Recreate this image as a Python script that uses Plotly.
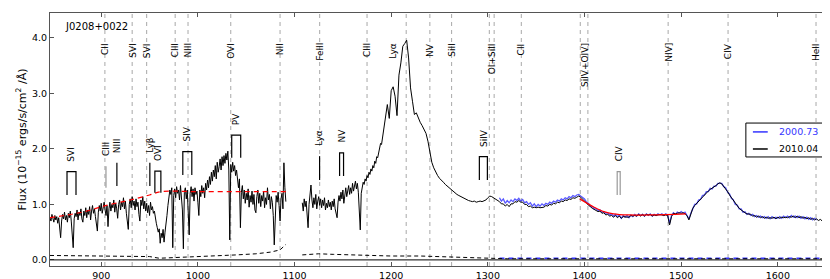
import plotly.graph_objects as go

# ---------------- data ----------------
# 2010.04 spectrum, 847-1091 A (1 A sampling), one row per 10 A; row start wavelengths below
rows_a_start = list(range(847, 1092, 10))
rows_a = [
    [0.76, 0.70, 0.82, 0.74, 0.68, 0.80, 0.72, 0.78, 0.66, 0.76],
    [0.60, 0.40, 0.70, 0.82, 0.74, 0.86, 0.72, 0.80, 0.68, 0.84],
    [0.76, 0.88, 0.70, 0.45, 0.22, 0.74, 0.84, 0.78, 0.90, 0.72],
    [0.86, 0.80, 0.92, 0.74, 0.68, 0.88, 0.80, 0.94, 0.76, 0.90],
    [0.82, 0.96, 0.72, 0.88, 0.98, 0.84, 0.92, 0.78, 0.60, 0.52],
    [0.86, 0.98, 0.88, 1.02, 0.84, 0.96, 1.04, 0.90, 0.80, 0.98],
    [0.60, 0.92, 1.04, 0.88, 1.00, 0.94, 1.08, 0.86, 1.02, 0.92],
    [0.75, 1.00, 1.08, 0.90, 1.04, 0.96, 1.12, 0.92, 1.06, 0.84],
    [0.62, 0.55, 1.00, 1.10, 0.94, 1.14, 0.98, 1.06, 0.90, 1.10],
    [0.96, 1.04, 0.82, 0.70, 1.08, 0.98, 1.14, 0.92, 1.06, 0.88],
    [1.02, 0.85, 0.98, 0.80, 1.04, 0.90, 0.96, 0.84, 0.88, 0.72],
    [0.66, 0.58, 0.50, 0.56, 0.30, 0.48, 0.40, 0.55, 0.32, 0.50],
    [0.62, 0.80, 0.98, 1.14, 1.26, 1.18, 1.30, 0.22, 1.16, 1.28],
    [1.12, 1.32, 1.20, 1.26, 1.08, 1.34, 1.18, 0.90, 0.20, 1.22],
    [1.30, 1.10, 1.26, 0.80, 0.45, 1.20, 1.32, 1.14, 1.28, 1.06],
    [1.30, 1.18, 1.24, 1.04, 0.80, 1.26, 1.14, 1.34, 1.20, 1.30],
    [1.12, 1.38, 1.26, 1.44, 1.30, 1.50, 1.36, 1.58, 1.42, 1.62],
    [1.50, 1.70, 1.46, 1.76, 1.58, 1.68, 1.82, 1.62, 1.86, 1.70],
    [1.88, 1.74, 1.92, 1.80, 1.96, 1.62, 0.36, 1.72, 1.58, 1.76],
    [1.60, 1.70, 1.52, 1.62, 1.40, 1.30, 1.46, 0.58, 1.22, 1.34],
    [1.10, 1.26, 1.02, 1.20, 1.08, 1.28, 0.95, 1.16, 1.04, 1.24],
    [1.00, 1.18, 0.90, 0.85, 1.14, 1.26, 1.02, 1.20, 0.96, 1.16],
    [1.06, 1.24, 0.94, 1.12, 1.00, 1.30, 1.08, 1.18, 0.92, 1.14],
    [1.04, 0.80, 0.27, 0.96, 1.16, 1.04, 1.22, 0.98, 0.70, 1.10],
    [1.20, 0.92, 1.75, 1.30, 1.05],
]
# 2010.04 spectrum, 1108-1190 A (1 A sampling)
rows_b_start = list(range(1108, 1191, 10))
rows_b = [
    [1.03, 0.88, 1.10, 0.96, 1.06, 0.72, 0.58, 1.00, 1.20, 1.35],
    [1.08, 0.94, 1.12, 1.00, 1.18, 0.92, 1.06, 1.14, 0.98, 1.10],
    [0.94, 1.08, 0.98, 1.12, 0.90, 1.02, 0.94, 1.08, 0.96, 1.04],
    [0.90, 1.06, 0.96, 1.10, 0.92, 0.86, 0.76, 1.04, 1.16, 1.06],
    [1.22, 1.10, 1.26, 1.02, 1.18, 1.30, 1.14, 1.22, 1.34, 1.18],
    [1.30, 1.20, 1.38, 1.24, 1.32, 1.42, 1.28, 1.38, 1.22, 0.90],
    [0.54, 1.20, 1.34, 1.40, 1.36, 1.46, 1.42, 1.52, 1.48, 1.58],
    [1.54, 1.64, 1.60, 1.70, 1.66, 1.78, 1.74, 1.86, 1.84, 1.95],
    [1.98, 2.10, 2.08],
]
# 2010.04 spectrum, 1192-1654 A (2 A sampling), one row per 20 A
rows_c_start = list(range(1192, 1655, 20))
rows_c = [
    [2.30, 2.50, 2.80, 2.55, 3.05, 3.12, 2.95, 2.60, 3.33, 3.55],
    [3.85, 3.90, 3.96, 3.64, 3.10, 2.86, 2.62, 2.65, 2.55, 2.48],
    [2.42, 2.35, 2.28, 2.14, 1.92, 1.76, 1.66, 1.58, 1.52, 1.47],
    [1.44, 1.40, 1.36, 1.33, 1.29, 1.26, 1.24, 1.21, 1.18, 1.16],
    [1.14, 1.12, 1.10, 1.09, 1.07, 1.06, 1.05, 1.06, 1.04, 1.05],
    [1.06, 1.05, 1.07, 1.08, 1.12, 1.15, 1.14, 1.12, 1.10, 1.08],
    [1.05, 1.01, 1.01, 0.97, 1.00, 0.96, 1.01, 1.01, 1.05, 1.04],
    [1.07, 1.04, 1.04, 1.00, 1.00, 0.96, 0.97, 0.94, 0.95, 0.94],
    [0.95, 0.94, 0.95, 0.95, 0.98, 0.97, 1.00, 0.99, 1.02, 1.01],
    [1.04, 1.03, 1.06, 1.05, 1.08, 1.07, 1.10, 1.09, 1.12, 1.11],
    [1.13, 1.15, 1.13, 1.10, 1.06, 1.02, 0.98, 0.96, 0.93, 0.91],
    [0.90, 0.87, 0.88, 0.84, 0.85, 0.81, 0.82, 0.79, 0.80, 0.77],
    [0.80, 0.76, 0.79, 0.75, 0.78, 0.77, 0.77, 0.77, 0.80, 0.79],
    [0.80, 0.79, 0.82, 0.79, 0.82, 0.79, 0.82, 0.81, 0.82, 0.79],
    [0.81, 0.80, 0.81, 0.82, 0.81, 0.80, 0.81, 0.80, 0.63, 0.78],
    [0.84, 0.83, 0.84, 0.85, 0.84, 0.85, 0.83, 0.80, 0.72, 0.82],
    [0.93, 0.98, 1.02, 1.06, 1.10, 1.14, 1.18, 1.21, 1.24, 1.27],
    [1.29, 1.31, 1.34, 1.37, 1.39, 1.37, 1.33, 1.28, 1.23, 1.17],
    [1.12, 1.06, 1.01, 0.97, 0.93, 0.90, 0.87, 0.85, 0.83, 0.82],
    [0.82, 0.79, 0.80, 0.77, 0.79, 0.76, 0.78, 0.75, 0.77, 0.75],
    [0.76, 0.75, 0.77, 0.74, 0.77, 0.75, 0.77, 0.76, 0.77, 0.76],
    [0.78, 0.77, 0.79, 0.76, 0.79, 0.76, 0.78, 0.75, 0.77, 0.74],
    [0.76, 0.73, 0.75, 0.72, 0.74, 0.71, 0.73, 0.70, 0.71, 0.68],
    [0.67, 0.45],
]
# 2000.73 spectrum, 1312-1640 A (2 A sampling), one row per 20 A
rows_blue_start = list(range(1312, 1641, 20))
rows_blue = [
    [1.12, 1.06, 1.10, 1.02, 1.07, 1.03, 1.08, 1.05, 1.10, 1.07],
    [1.11, 1.06, 1.09, 1.03, 1.05, 1.00, 1.03, 0.97, 1.01, 0.96],
    [1.00, 0.97, 1.01, 0.98, 1.02, 1.00, 1.04, 1.02, 1.06, 1.04],
    [1.08, 1.06, 1.10, 1.08, 1.12, 1.10, 1.14, 1.12, 1.16, 1.14],
    [1.17, 1.18, 1.15, 1.12, 1.10, 1.04, 1.02, 0.97, 0.96, 0.92],
    [0.92, 0.89, 0.90, 0.86, 0.87, 0.84, 0.85, 0.81, 0.83, 0.79],
    [0.82, 0.78, 0.81, 0.75, 0.80, 0.77, 0.80, 0.76, 0.81, 0.78],
    [0.82, 0.79, 0.83, 0.80, 0.82, 0.79, 0.83, 0.80, 0.83, 0.79],
    [0.82, 0.80, 0.83, 0.81, 0.83, 0.80, 0.83, 0.81, 0.66, 0.80],
    [0.85, 0.82, 0.86, 0.84, 0.87, 0.84, 0.86, 0.80, 0.74, 0.84],
    [0.92, 1.00, 1.01, 1.08, 1.09, 1.16, 1.17, 1.23, 1.23, 1.29],
    [1.28, 1.33, 1.33, 1.38, 1.38, 1.38, 1.32, 1.30, 1.22, 1.19],
    [1.11, 1.08, 1.00, 0.99, 0.92, 0.92, 0.86, 0.87, 0.82, 0.84],
    [0.80, 0.82, 0.78, 0.80, 0.77, 0.79, 0.76, 0.78, 0.75, 0.78],
    [0.74, 0.78, 0.75, 0.77, 0.75, 0.78, 0.75, 0.79, 0.76, 0.79],
    [0.76, 0.80, 0.77, 0.79, 0.76, 0.79, 0.75, 0.78, 0.74, 0.77],
    [0.73, 0.76, 0.72, 0.75, 0.72],
]
# error spectra
err_left_wl = [847, 880, 920, 950, 960, 975, 990, 1010, 1040, 1060, 1075, 1085, 1091]
err_left = [0.08, 0.07, 0.07, 0.06, 0.03, 0.04, 0.05, 0.06, 0.09, 0.11, 0.14, 0.18, 0.28]
err_right_wl = [1108, 1125, 1140, 1170, 1200, 1230, 1260, 1290, 1320, 1400, 1500, 1600, 1654]
err_right = [0.09, 0.11, 0.10, 0.08, 0.07, 0.07, 0.05, 0.04, 0.02, 0.02, 0.02, 0.02, 0.02]
err_blue_wl = [1312, 1400, 1500, 1600, 1654]
err_blue = [0.03, 0.03, 0.03, 0.03, 0.03]
# continuum fits
cont_wl = [847, 880, 907, 930, 950, 962, 1000, 1092]
cont = [0.76, 0.86, 0.99, 1.08, 1.17, 1.23, 1.23, 1.23]
civ_cont_wl = [1395, 1410, 1420, 1430, 1445, 1470, 1505]
civ_cont = [1.10, 0.95, 0.87, 0.83, 0.81, 0.81, 0.83]

# emission-line identifications
em_wl = [903.8, 932.0, 947.0, 976.5, 989.8, 1034.0, 1085.0, 1126.0, 1175.0, 1215.5, 1240.0, 1262.5,
         1301.5, 1306.5, 1334.6, 1395.6, 1403.5, 1486.5, 1548.5, 1639.5]
em_names = ["CII", "SVI", "SVI", "CIII", "NIII", "OVI", "NII", "FeIII", "CIII", "Lyα", "NV", "SiII",
            "OI+SiII", "CII", "SiIV+OIV]", "NIV]", "CIV", "HeII"]
em_label_wl = [903.8, 932.0, 947.0, 976.5, 989.8, 1034.0, 1085.0, 1126.0, 1175.0, 1201.5, 1240.0, 1262.5,
               1304.0, 1334.6, 1400.5, 1486.5, 1548.5, 1639.5]

# associated absorption markers (doublets: two wavelengths, singles: one)
abs_names = ["SVI", "CIII", "NIII", "Lyβ", "OVI", "SIV", "PV", "Lyα", "NV", "SiIV", "CIV"]
abs_wl1 = [864.6, 904.9, 916.2, 950.3, 955.5, 984.4, 1035.0, 1125.9, 1146.6, 1291.2, 1433.8]
abs_wl2 = [873.9, None, None, None, 961.7, 993.7, 1044.3, None, 1150.7, 1299.5, 1436.9]
abs_top = [1.59, 1.69, 1.75, 1.75, 1.60, 1.95, 2.25, 1.87, 1.93, 1.86, 1.59]
abs_bot = [1.17, 1.30, 1.33, 1.33, 1.21, 1.53, 1.84, 1.44, 1.51, 1.44, 1.17]
abs_gray = [False, True, False, False, False, False, False, False, False, False, True]

legend_names = ["2000.73", "2010.04"]


def flatten(starts, rows, step):
    xs, ys = [], []
    for s, r in zip(starts, rows):
        for i, v in enumerate(r):
            xs.append(s + step * i)
            ys.append(v)
    return xs, ys


wl_a, fl_a = flatten(rows_a_start, rows_a, 1)
wl_b, fl_b = flatten(rows_b_start, rows_b, 1)
wl_c, fl_c = flatten(rows_c_start, rows_c, 2)
wl_bl, fl_bl = flatten(rows_blue_start, rows_blue, 2)

# ---------------- figure ----------------
FONT = "DejaVu Sans"
BLUE = "#3535ff"
fig = go.Figure()

fig.add_trace(go.Scatter(x=wl_bl, y=fl_bl, mode="lines", name=legend_names[0], showlegend=False,
                         line=dict(color="rgba(60,60,255,0.85)", width=1.3)))
fig.add_trace(go.Scatter(x=err_blue_wl, y=err_blue, mode="lines", showlegend=False,
                         line=dict(color=BLUE, width=1.5, dash="5px,4px")))
fig.add_trace(go.Scatter(x=wl_a + [None] + wl_b + wl_c, y=fl_a + [None] + fl_b + fl_c, mode="lines",
                         name=legend_names[1], showlegend=False, line=dict(color="black", width=1)))
fig.add_trace(go.Scatter(x=err_left_wl + [None] + err_right_wl, y=err_left + [None] + err_right, mode="lines",
                         showlegend=False, line=dict(color="black", width=1, dash="4px,3px")))
fig.add_trace(go.Scatter(x=cont_wl, y=cont, mode="lines", showlegend=False, line_shape="spline",
                         line=dict(color="red", width=1.2, dash="5px,4px")))
fig.add_trace(go.Scatter(x=civ_cont_wl, y=civ_cont, mode="lines", showlegend=False, line_shape="spline",
                         line=dict(color="red", width=1.2)))

shapes = []
annotations = []
# zero line
shapes.append(dict(type="line", xref="paper", yref="y", x0=0, x1=1, y0=0, y1=0,
                   line=dict(color="black", width=1)))
# emission lines
for w in em_wl:
    shapes.append(dict(type="line", xref="x", yref="paper", x0=w, x1=w, y0=0, y1=1, layer="below",
                       line=dict(color="#a8a8a8", width=1, dash="4px,4px")))
for name, lw in zip(em_names, em_label_wl):
    annotations.append(dict(x=lw, y=0.889, xref="x", yref="paper", text=name, showarrow=False,
                            textangle=-90, xanchor="center", yanchor="top",
                            font=dict(family=FONT, size=9, color="black")))
# absorption markers
for name, w1, w2, top, bot, gray in zip(abs_names, abs_wl1, abs_wl2, abs_top, abs_bot, abs_gray):
    col = "#999999" if gray else "black"
    if w2 is None:
        shapes.append(dict(type="line", xref="x", yref="y", x0=w1, x1=w1, y0=bot, y1=top,
                           line=dict(color=col, width=1.2)))
        xc = w1
    else:
        shapes.append(dict(type="path", xref="x", yref="y",
                           path=f"M {w1},{bot} L {w1},{top} L {w2},{top} L {w2},{bot}",
                           line=dict(color=col, width=1.2)))
        xc = (w1 + w2) / 2
    annotations.append(dict(x=xc, y=top, xref="x", yref="y", text=name, showarrow=False, textangle=-90,
                            xanchor="center", yanchor="bottom", yshift=8,
                            font=dict(family=FONT, size=9, color="black")))
# object name
annotations.append(dict(x=0.017, y=0.975, xref="paper", yref="paper", text="J0208+0022", showarrow=False,
                        xanchor="left", yanchor="top", font=dict(family=FONT, size=10, color="black")))

# legend box (drawn in paper coordinates)
shapes.append(dict(type="rect", xref="paper", yref="paper", x0=0.891, x1=0.9936, y0=0.431, y1=0.565,
                   line=dict(color="black", width=1), fillcolor="white", layer="above"))
for yy, col, name in [(0.530, BLUE, legend_names[0]), (0.4625, "black", legend_names[1])]:
    shapes.append(dict(type="line", xref="paper", yref="paper", x0=0.900, x1=0.919, y0=yy, y1=yy,
                       line=dict(color=col, width=1.5), layer="above"))
    annotations.append(dict(x=0.985, y=yy, xref="paper", yref="paper", text=name, showarrow=False,
                            xanchor="right", yanchor="middle", borderpad=0,
                            font=dict(family=FONT, size=9.5, color=col)))

fig.update_layout(
    width=830, height=279,
    margin=dict(l=42, r=7, t=5, b=21),
    paper_bgcolor="white", plot_bgcolor="white",
    font=dict(family=FONT, size=9, color="black"),
    shapes=shapes, annotations=annotations, showlegend=False,
)
fig.update_xaxes(range=[847, 1655], showgrid=False, zeroline=False, showline=True, mirror="allticks",
                 linecolor="#555555", linewidth=1.2, ticks="inside", ticklen=4, tickcolor="#555555",
                 tickvals=[900, 1000, 1100, 1200, 1300, 1400, 1500, 1600],
                 tickfont=dict(family=FONT, size=9.5))
fig.update_yaxes(range=[-0.11, 4.45], showgrid=False, zeroline=False, showline=True, mirror="allticks",
                 linecolor="#555555", linewidth=1.2, ticks="inside", ticklen=4, tickcolor="#555555",
                 tickvals=[0, 1, 2, 3, 4], tickformat=".1f", tickfont=dict(family=FONT, size=9.5),
                 title=dict(text="Flux (10<sup>−15</sup> ergs/s/cm<sup>2</sup> /Å)", standoff=3,
                            font=dict(family=FONT, size=11)))

fig.write_html("out.html")
